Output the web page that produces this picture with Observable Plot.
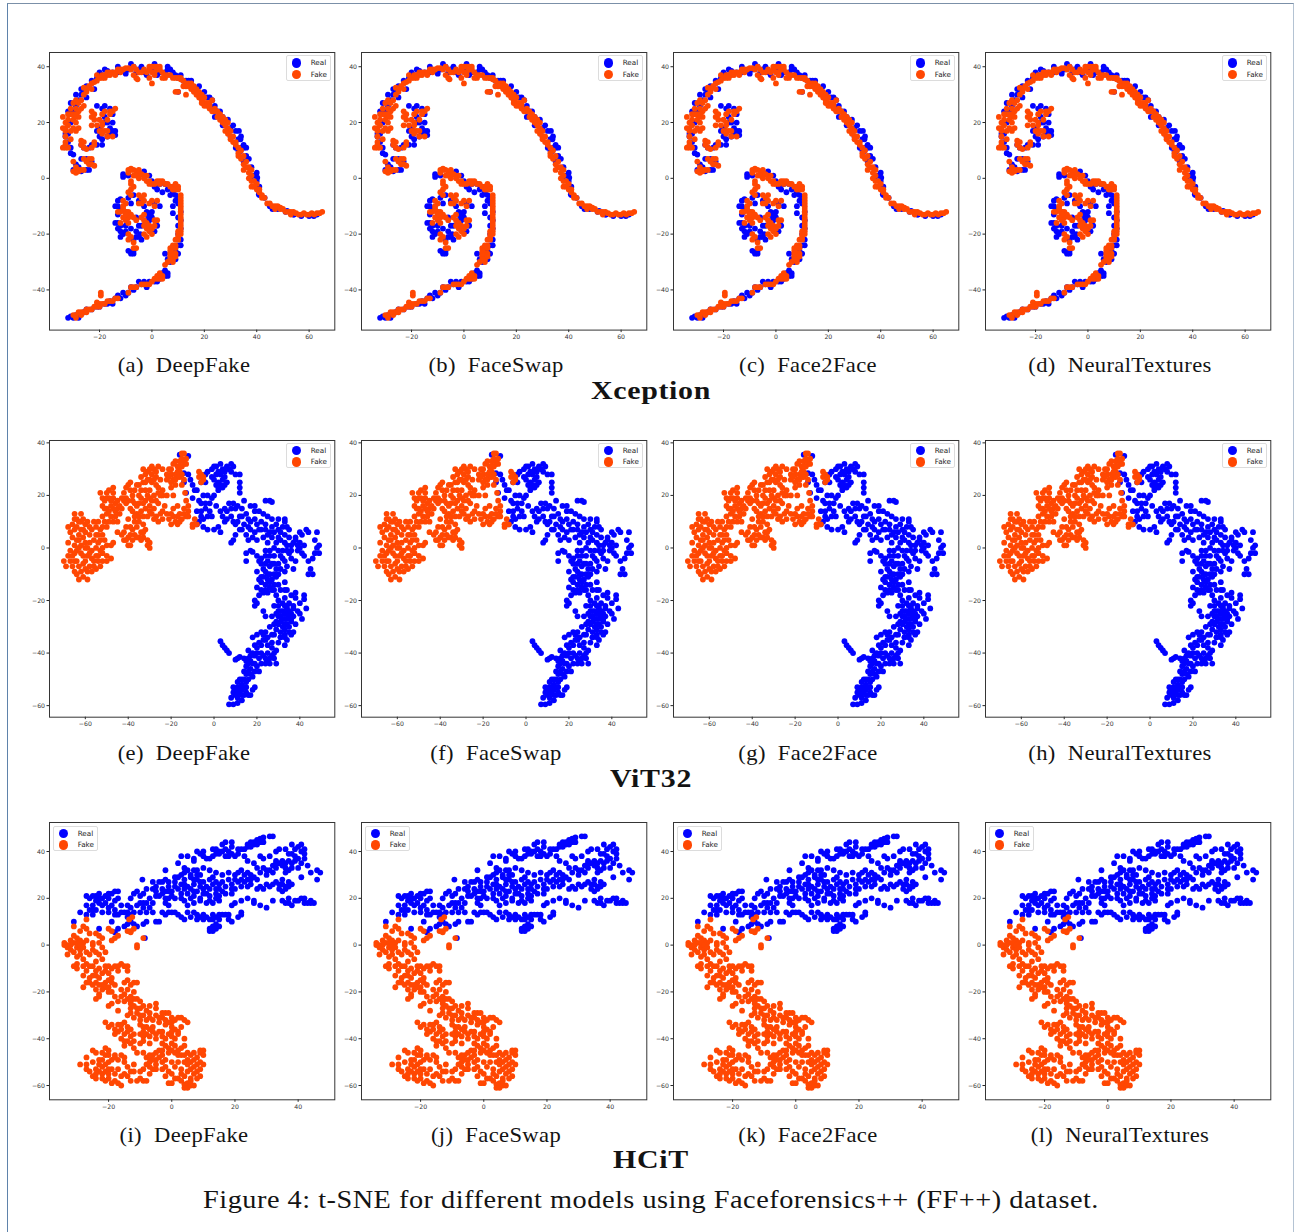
<!DOCTYPE html>
<html><head><meta charset="utf-8">
<script src="https://cdn.jsdelivr.net/npm/d3@7"></script>
<script src="https://cdn.jsdelivr.net/npm/@observablehq/plot@0.6"></script>
<style>
html,body{margin:0;padding:0;background:#fff;overflow:hidden}
#page{position:relative;width:1294px;height:1232px;overflow:hidden}
#edge{position:absolute;left:7px;top:3px;width:1285px;height:1240px;border-left:1.5px solid #5f83ab;border-top:1.5px solid #7b90a8;border-right:1.5px solid #b4c3d3}
.p{position:absolute;opacity:.99}
.t{position:absolute;white-space:nowrap;font-family:"Liberation Serif",serif;color:#111;opacity:.99}
.lg{position:absolute;background:#fff;border:1px solid #dcdcdc;border-radius:2px;box-sizing:border-box;opacity:.99}
.d{position:absolute;width:9.4px;height:9.4px;border-radius:50%}
.l{position:absolute;font:7.2px "DejaVu Sans",sans-serif;color:#222;line-height:9px}
</style></head><body><div id="page"><div id="edge"></div></div>
<script>
const realColor = "#0000ff", fakeColor = "#ff4500";
const seriesNames = ["Real", "Fake"];
const methods = ["DeepFake", "FaceSwap", "Face2Face", "NeuralTextures"];
const letters = "abcdefghijkl";
const modelNames = ["Xception", "ViT32", "HCiT"];
const figureCaption = "Figure 4: t-SNE for different models using Faceforensics++ (FF++) dataset.";

const xceptionReal = [[-32,16],[-33,15],[-32,13],[-31,11],[-31,9],[-30,8.5],[-31,20],[-30,24],[-29,26],[-28,28],[-27,30],[-26,31],[-25,33],[-22,32],[-21,36],[-19,37],[-17,38.5],[-15,38],[-13,38],[-11,38.5],[-9,39],[-7,40],[-5,39],[-3,38],[0,39],[3,38],[5,38],[7,39],[8,38],[10,36],[12,35],[14,35],[15,33],[17,32],[19,30],[21,29],[23,28],[22,26],[25,24],[27,22],[28,20],[30,18],[32,17],[33,14],[35,12],[34,11],[33,10],[36,8],[35,6],[38,4],[39,1],[40,-1],[41,-3],[41,-6],[43,-7],[45,-10],[46,-11],[48,-11],[51,-12],[54,-13],[57,-13.5],[60,-13.5],[63,-13],[-21,26],[-18,26],[-16,25],[-15,23],[-18,22],[-17,20],[-16,18],[-15,17],[-14,15.5],[-20,18],[-21,17],[-20,15],[-17,15],[-21,12],[-23,12],[-24,11],[-26,11],[-27,12],[-27,7],[-25,7],[-23,6],[-24,3],[-29,5],[-28,4],[-30,3],[-27,2.5],[-25,3],[-11,1.5],[-11,0.5],[-3,2.5],[-1,1],[0,-1],[1,-3],[3,-2],[2,-4],[5,-2],[6,-4],[7,-6],[9,-6],[10,-7],[10,-9],[11,-12],[8,-12.5],[11,-15],[11,-18],[10,-20],[11,-22],[10,-24],[9,-26],[7,-27],[7,-30],[9,-29],[5,-33],[6,-34],[4,-34],[3,-36],[1,-37],[-1,-37],[-3,-37],[-4,-38],[-5,-37],[-6,-39],[-8,-39],[-9,-41],[-11,-41],[-13,-42],[-14,-43],[-16,-44],[-13,-42.5],[-18,-45],[-20,-46],[-23,-47],[-25,-47],[-26,-48],[-29,-49],[-31,-49.5],[-32,-50],[-12,-7.5],[-13,-8],[-13,-10],[-14,-10],[-12,-11],[-10,-12],[-13,-16],[-14,-16],[-12,-17],[-12,-19],[-11,-20],[-10,-19],[-8,-18],[-6,-14],[-5,-17],[-4,-17],[-5,-21],[-4,-22],[-4.5,-20],[-7,-22],[-8,-27],[-7,-26],[-8,-9],[-5,-8],[-7,-6],[-3,-10],[-2,-12],[-1,-12.5],[-0.5,-13],[0,-12],[-1,-14],[-2,-15],[1,-9],[3,-10],[2,-17],[1,-19],[-1,-18],[-6,-19]];
const xceptionRealMore = [[33.2,17],[33.8,14],[35,11],[33.8,9.8],[37.7,0.2],[40.2,0.2],[40.8,-5.7],[46,-10.5],[51.6,-11.7],[54.2,-13],[61.8,-13.5],[24,26],[26,24],[29,21],[31,19],[34,15],[36,11],[37,7],[40,2],[24,22],[27,19],[30,15],[32,11],[-10,37.5],[-6,38],[-2,37],[2,37],[6,39],[9,37],[11,37],[13,35],[15,35],[18,33],[20,31],[22,29],[10,31],[-33,16],[-32,24],[-31,27],[-29,30],[-27,32],[-25,29],[-23,35],[-20,38],[-18,39],[-13,40],[-8,41],[-4,40],[1,41],[6,40],[-19,25],[-18,20],[-14,17],[-16,16],[-19,14],[-15,20],[-19,12],[-9,1],[-3,1],[2,-2],[4,-5],[8,-5],[9,-8],[8,-10],[10,-14],[10,-17],[11,-24],[5,-27],[6,-29],[10,-27],[6,-35],[5,-35],[2,-37],[-2,-39],[-7,-40],[-10,-42],[-12,-43],[-15,-45],[-17,-45],[-21,-46],[-28,-50],[-30,-50],[-13,-13],[-13,-18],[-12,-21],[-10,-17],[-1,-13],[0,-14],[-1,-15],[-2,-13],[-9,-26],[-7,-27],[-6,-21],[-9,-7]];
const xceptionFake = [[-33,11],[-34,11],[-32,11],[-33,13],[-33,15],[-33,17],[-33,18],[-34,18],[-32,19],[-31,17],[-31,14],[-32,21],[-34,22],[-30,21],[-29,22],[-31,23],[-29,20],[-28,18],[-29,17],[-30,18],[-31,25],[-29,25],[-28,24],[-27,25],[-28,22],[-26,26],[-30,27],[-29,28],[-26,30],[-25,32],[-26,32.5],[-24,33],[-23,32],[-23,34],[-22,34.5],[-21,37],[-20,36],[-19,36],[-19,37],[-18,37],[-17,38],[-16,38],[-17,37],[-15,38],[-14,38],[-14,37],[-13,39],[-11,39],[-10,39.5],[-9,39.5],[-8,39],[-7,40],[-7,37],[-6,36],[-5.5,35.5],[-4,38],[-3,39],[-1,39],[0,40],[1,40],[2,40],[2,39],[0,38],[1,37],[-1,36],[0,34],[3,39],[4,38],[5,37],[5,36],[7,37],[9,36],[10,36],[11,35.5],[12,35],[13,34],[14,34],[15,34],[13,33],[15,32],[16,31],[17,32],[18,31],[9,31],[10,31],[13,30],[19,30],[20,29],[19,28],[20,27],[21,27],[22,27],[21,26],[20,26],[23,28],[24,25],[25,24],[26,23],[27,22],[28,21],[29,20],[29,18],[30,17],[30,15],[31,13],[32,12],[33,11],[34,10],[35,8],[36,6],[37,4],[36,4],[38,3],[38,1],[39,-1],[40,-2],[41,-5],[43,-7],[44,-9],[46,-10],[47,-11],[49,-11],[48,-10],[51,-12],[54,-12],[55,-12.5],[57,-13],[58,-12.5],[60,-13],[61,-12.5],[63,-12.5],[65,-12],[-23,24],[-22,23],[-19,23],[-18,24],[-23,22],[-22,21],[-20,21],[-19,20],[-21,19],[-23,19],[-19,19],[-16,24],[-15,24],[-14,25],[-16,23],[-17,21],[-20,17],[-19,17],[-18,17],[-17,17],[-17,15],[-15,15],[-19,16],[-27,13.5],[-27,12],[-26,13],[-26,11],[-25,10.5],[-22,13],[-23,11],[-22,12],[-26,7],[-25,6],[-24,7],[-23,7],[-24,5],[-23,5],[-22,4.5],[-30,6],[-29,4],[-28,3],[-30,2.5],[-29,2],[-28,2.5],[-27,3],[-26,3],[-9,3],[-8,3],[-7,3],[-6,2.5],[-9,2],[-7,1],[-5,2],[-3,1],[-2,1],[-3,0],[-2,-1],[-1,-1],[-1,-2],[2,-1],[3,-2],[5,-2],[6,-2],[7,-3],[8,-3],[9,-3],[10,-4],[11,-6],[11,-8],[11,-10],[11,-12],[11,-14],[11,-16],[11,-18],[11,-19],[10,-20],[10,-22],[9,-24],[8,-24],[7,-25],[8,-27],[7,-28],[9,-27],[8,-29],[5,-31],[4,-35],[3,-35],[3,-36],[1,-36],[0,-37],[-2,-38],[-3,-38],[-7,-39],[-6,-39],[-8,-39],[-9,-41],[-17,-44],[-14,-43],[-13,-43],[-18,-45],[-19,-45],[-20,-45],[-21,-44.5],[-19.5,-41],[-19.5,-42],[-22,-46],[-23,-47],[-25,-47],[-25,-48],[-27,-48],[-29,-49],[-30,-49],[-29,-50],[-26,-48],[-9,-5],[-8,-4],[-7,-3],[-8,-1],[-8,-2],[-11,-8],[-10,-9],[-11,-10],[-12,-12],[-10,-12],[-9,-12],[-8,-13],[-9,-14],[-10,-15],[-12,-16],[-5,-6],[-4,-7],[-3,-6],[-3,-8],[-4,-9],[-5,-9],[0,-8],[2,-8],[1,-10],[-1,-9],[-3,-15],[-4,-14],[-2.5,-16],[-1,-17],[-2,-18],[-1,-19],[0,-18],[1,-17],[1,-15],[2,-15],[0,-20],[-3,-20],[-7,-14],[-6,-15],[-9,-20],[-8,-21],[-9,-22],[-7,-23],[-6,-25],[-7,-25]];
const xceptionFakeMore = [[22,25],[23,24],[24,24],[25,22],[26,21],[27,20],[28,19],[28,17],[29,16],[30,14],[31,15],[32,13],[33,9],[33,8],[34,7],[35,5],[35,3],[37,2],[37,0],[38,-1],[38,-3],[39,-3],[40,-4],[41,-4],[42,-6],[42,-7],[45,-9],[47,-10],[49,-10.5],[50,-11],[52,-12],[53,-12],[53,-13],[56,-13],[59,-13],[62,-13],[64,-12.5],[-12,38],[-12,39],[-16,37],[-18,36],[-21,35],[-6,39],[-5,38],[-2,38],[-1,40],[1,38],[3,40],[4,36],[6,37],[8,36],[11,36],[12,33],[14,33],[16,33],[17,30],[18,29],[19,27],[22,26],[-27,28],[-28,27],[-25,31],[-33,20],[-32,23],[-30,23],[-29,23],[-33,12],[11,-7],[11,-9],[11,-11],[11,-13],[11,-15],[11,-17],[10,-19],[11,-20],[10,-21],[9,-22],[9,-25],[8,-25],[7,-26],[7,-27],[9,-28],[8,-30],[6,-30],[7,-29],[4,-36],[2,-36],[2,-35],[3,-34],[-1,-38],[-4,-38],[-20,-46],[-21,-46],[-15,-44],[-16,-44],[-24,-47],[-27,-49],[-28,-48],[8,-4],[9,-4],[10,-3],[9,-2],[4,-1],[3,-1],[0,-2],[1,-2],[-8,3.5],[-5,3],[-4,1.5],[-6,1],[-5,0],[-11,-11],[-10,-13],[-9,-16],[-11,-14],[-13,-12],[-8,-6],[-2,-16],[-3,-17],[-3,-13],[-2,-21]];

const vitReal = [[-16,35.5],[-12,35],[-14,28.5],[-12,28],[-14,25],[-11,26],[-10,24],[-9,22],[-13,21],[-10,19],[-7,18],[-8,22],[-6,25],[-4,25],[-4,28],[-3,29],[-1,30],[0,31],[1,31],[3,32],[4,30],[3,28],[1,28],[0,26],[2,25],[3,24],[4,26],[5,27],[6,25],[2,23],[2,22],[7,30],[8,32],[9,31],[8,29],[10,28],[12,28],[12,25],[12,23],[12,21],[-5,20],[-6,17],[-4,17],[-3,20],[-1,19],[0,20],[-4,15],[-2,14],[-1,12],[-5,11],[-7,10],[-8,9],[-5,8],[-3,7],[0,7],[2,8],[3,6],[5,10],[4,12],[6,14],[8,15],[7,17],[9,17],[10,15],[11,16],[14,18],[13,15],[15,13],[17,16],[19,16],[19,14],[21,14],[16,11],[14,9],[12,7],[10,5],[9,3],[8,2],[15,5],[17,7],[19,6],[20,9],[22,10],[24,9],[24,7],[23,4],[25,2],[27,4],[26,6],[28,6],[29,9],[27,11],[25,12],[30,11],[33,11],[33,10],[34,8],[30,7],[33,5],[35,4],[31,3],[29,2],[28,0],[24,18],[26,18],[27,17.5],[23,13],[17,-1],[18,-1.5],[15,-2],[15,-5],[20,-3],[22,-4],[24,-3],[26,-1],[28,-3],[31,-3],[34,-1],[36,1],[38,3],[40,2],[42,1],[39,-1],[36,-4],[33,-5],[30,-6],[26,-7],[24,-6],[23,-8],[20,-9],[22,-11],[25,-10],[28,-10],[30,-10],[33,-9],[37,-8],[38,-5],[42,-3],[44,-5],[46,-4],[47,-2],[49,-2],[48,0],[49,1],[47,3],[48,6],[44,6],[41,5],[40,6],[43,7],[38,4],[45,-8],[46,-10],[44,-10],[22,-13],[24,-14],[26,-13],[28,-14],[30,-14],[33,-13],[20,-15],[23,-17],[25,-17],[27,-16],[29,-18],[33,-16],[34,-16],[19,-20],[20,-21],[19,-22],[23,-24],[24,-26],[33,-19],[36,-18],[42,-18],[42,-19.5],[38,-17],[40,-21],[37,-22],[35,-21],[32,-21],[30,-22],[28,-22],[27,-26],[29,-25],[31,-24],[33,-25],[35,-24],[37,-23],[33,-27],[36,-28],[31,-28],[30,-26],[28,-29],[35,-30],[33,-31],[31,-32],[29,-31],[26,-30],[24,-32],[22,-32],[20,-33],[18,-34],[36,-33],[33,-34],[33,-37],[30,-36],[27,-36],[25,-37],[23,-35],[22,-37],[20,-38],[19,-41],[21,-42],[23,-41],[25,-40],[27,-41],[29,-39],[29,-44],[26,-44],[24,-44],[22,-44],[17,-43],[16,-39],[14,-42],[15,-45],[17,-46],[19,-47],[21,-47],[15,-48],[14,-50],[16,-50],[13,-52],[11,-53],[12,-55],[9,-53],[9,-55],[8,-57],[10,-56],[13,-56],[15,-55],[17,-56],[18,-54],[19,-53],[15,-53],[13,-58],[11,-59],[9,-59.5],[7,-59.5],[3,-35.5],[4,-37],[5,-38],[6,-39],[7,-40],[10,-42.5],[11,-42],[12,-41.5],[41,-27],[43,-23],[38,-29],[37,-32]];
const vitRealMore = [[2,29],[5,29],[6,31],[-1,27],[1,24],[4,23],[5,24],[-8,14],[-6,14],[-3,12],[-2,17],[1,16],[3,14],[5,15],[-6,12],[6,11],[8,12],[9,10],[10,9],[12,12],[11,10],[13,12],[13,7],[16,8],[17,10],[19,11],[18,4],[20,3],[16,3],[21,7],[22,7],[25,5],[27,8],[30,4],[31,6],[32,8],[35,7],[33,2],[34,1],[37,2],[39,1],[40,0],[41,-2],[35,-2],[36,-1],[32,-1],[30,-1],[26,-3],[24,-1],[22,-6],[21,-5],[25,-5],[27,-6],[28,-6],[29,-8],[31,-8],[32,-4],[34,-7],[24,-9],[26,-10],[27,-12],[23,-11],[21,-12],[25,-12],[29,-11],[24,-16],[26,-15],[22,-16],[21,-18],[28,-16],[31,-16],[30,-20],[33,-22],[34,-23],[32,-24],[34,-25],[36,-25],[30,-24],[31,-26],[32,-27],[34,-27],[35,-26],[36,-27],[37,-26],[29,-28],[30,-29],[33,-29],[34,-29],[32,-30],[35,-32],[33,-33],[31,-34],[34,-35],[28,-33],[27,-33],[25,-34],[23,-33],[24,-35],[21,-36],[19,-37],[20,-40],[18,-40],[17,-41],[16,-42],[18,-44],[19,-44],[20,-45],[16,-44],[15,-43],[17,-48],[18,-49],[16,-47],[14,-47],[15,-51],[13,-50],[12,-50],[11,-51],[14,-53],[12,-53],[11,-55],[13,-54],[10,-54],[14,-56],[11,-57],[16,-56],[27,-38],[28,-40],[26,-42],[24,-42],[22,-40],[25,-43],[28,-42],[31,-34],[34,-22],[39,-24],[40,-25],[38,-19]];
const vitFake = [[-70,-5],[-69,-7],[-67,-5],[-66,-3],[-66,-7],[-65,-9],[-64,-5],[-64,-10],[-63,-12],[-62,-9],[-61,-11],[-59,-12],[-59,-9],[-58,-7],[-57,-9],[-56,-7],[-55,-8],[-53,-7],[-52,-5],[-50,-5],[-48,-4],[-52,-2],[-54,-3],[-57,-4],[-59,-3],[-60,-5],[-62,-2],[-64,-1],[-65,-2],[-62,1],[-63,3],[-60,2],[-59,0],[-57,-1],[-58,2],[-55,0],[-54,2],[-52,0],[-50,1],[-48,1],[-47,2],[-67,-1],[-68,2],[-66,4],[-67,6],[-68,8],[-66,9],[-65,7],[-65,11],[-65,13],[-64,8],[-63,5],[-62,10],[-60,9],[-60,6],[-58,5],[-59,10],[-57,7],[-55,5],[-55,8],[-54,10],[-53,7],[-52,5],[-52,12],[-51,10],[-53,21],[-50,21],[-49,22],[-47,21],[-47,19],[-49,19],[-51,18],[-52,16],[-50,15],[-48,16],[-46,17],[-45,15],[-44,13],[-46,12],[-48,12],[-50,13],[-47,10],[-45,10],[-42,21],[-41,23],[-40,24],[-39,22],[-38,20],[-37,22],[-41,19],[-40,18],[-38,18],[-35,20],[-36,24],[-34,27],[-33,25],[-31,26],[-31,29],[-33,30],[-29,28],[-28,30],[-26,31],[-27,27],[-29,25],[-27,24],[-30,22],[-32,22],[-34,19],[-32,18],[-30,19],[-28,20],[-26,21],[-24,20],[-22,20],[-36,16],[-38,14],[-36,13],[-34,14],[-32,15],[-30,16],[-28,15],[-29,13],[-27,12],[-25,13],[-24,11],[-26,17],[-40,11],[-41,8],[-39,8],[-37,10],[-35,10],[-33,9],[-32,7],[-34,6],[-37,5],[-35,4],[-33,4],[-31,3],[-31,1],[-30,2],[-30,0],[-43,5],[-42,3],[-41,3],[-40,4],[-40,1],[-39,1],[-45,6],[-22,28],[-22,26],[-21,30],[-20,28],[-19,26],[-18,28],[-17,31],[-16,29],[-19,32],[-18,33],[-16,33],[-15,34],[-14,36],[-13,34],[-14,32],[-15,28],[-14,26],[-15,24],[-18,24],[-20,23],[-19,20],[-13.5,21],[-19,15],[-17,16],[-13,18],[-12,16],[-12,14],[-13,12],[-15,11],[-17,12],[-18,10],[-20,9],[-21,11],[-22,13],[-17,9],[-10,9],[-10,8],[-8,9],[-9,11],[-7,27],[-6,28],[-5,26],[-6,25],[-7,29],[-5,27]];
const vitFakeMore = [[-68,-3],[-65,-5],[-63,-7],[-61,-6],[-60,-8],[-61,-3],[-60,0],[-58,-2],[-56,-5],[-55,-3],[-54,-5],[-50,-3],[-53,-1],[-63,0],[-65,1],[-64,3],[-61,4],[-62,7],[-64,11],[-63,10],[-62,13],[-61,7],[-61,11],[-58,8],[-56,10],[-56,3],[-54,5],[-53,3],[-51,3],[-52,8],[-50,8],[-49,10],[-49,14],[-51,15],[-48,18],[-46,14],[-47,15],[-44,16],[-43,15],[-52,19],[-50,19],[-47,23],[-45,18],[-42,18],[-43,19],[-39,25],[-41,17],[-39,15],[-37,17],[-35,17],[-33,17],[-34,22],[-35,24],[-32,25],[-32,28],[-30,30],[-29,31],[-30,26],[-28,26],[-27,29],[-31,20],[-29,18],[-27,18],[-25,20],[-24,22],[-26,23],[-25,26],[-24,30],[-37,12],[-35,12],[-33,12],[-31,12],[-30,14],[-28,11],[-26,10],[-24,14],[-23,16],[-38,7],[-36,8],[-33,6],[-36,4],[-34,3],[-39,5],[-42,6],[-38,3],[-21,27],[-20,25],[-20,30],[-17,27],[-18,26],[-16,27],[-17,29],[-15,31],[-15,36],[-14,33],[-13,32],[-16,31],[-20,13],[-19,12],[-16,13],[-14,15],[-14,13],[-16,10],[-12,12],[-9,9]];

const hcitReal = [[-31,10],[-29,14],[-27,21],[-26,20],[-25,21],[-27,17],[-25,17],[-24,15],[-27,13],[-25,13],[-23,18],[-23,22],[-23,20],[-21,21],[-21,18],[-22,14],[-20,16],[-20,20],[-20,14],[-18,15],[-18,19],[-19,22],[-18,23],[-17,23],[-16,17],[-15,14],[-14,17],[-13,20],[-11,17],[-12,22],[-11,23],[-9,22],[-8,24],[-6,24],[-7,20],[-8,18],[-9,16],[-10,14],[-8,14],[-7,16],[-6,14],[-14,12],[-13,10],[-12,9],[-11,8],[-9,9],[-8,10],[-23,7],[-19,10],[-17,7],[-15,8],[-14,9],[-4,10],[-5,10],[-8.5,3],[-18,5.5],[-9.3,28],[-6,27],[-4,27],[-3,27],[-2,28],[-3,22],[-5,25],[-3,24],[-2,23],[-4,21],[-2,20],[-1,20],[0,21],[1,20],[-1,17],[-2,18],[0,14],[2,13],[-2,13],[0,23],[1,25],[1,27],[2,29],[3,30],[4,28],[4,31],[5,32],[4,33],[6,30],[2,35],[-2,32],[3,38],[5,38],[7,37],[9,39],[8,40],[10,40],[11,37],[13,41],[14,41],[12,37],[15,40],[16,43],[15,39],[17,38],[18,40],[19,42],[19,44],[20,38],[21,41],[22,41],[23,38],[24,42],[25,42],[26,43],[26,44],[27,45],[28,45.5],[29,44],[31,46.5],[32,46.5],[24,36],[26,35],[28,38],[29,37],[31,38],[33,40],[34,41],[36,41],[37,39],[38,43],[40,42],[41,40],[42,39],[42,37],[41,35],[39,36],[37,36],[35,36],[36,35],[35,34],[33,33],[31,32],[29,33],[27,33],[30,30],[32,31],[36,31],[38,33],[40,33],[43,34],[41,29],[44,31],[46,32],[47,31],[46,28],[35,28],[37,27],[38,26],[36,25],[34,26],[36,24],[34,24],[32,26],[30,26],[29,24],[27,24],[25,26],[24,25],[22,25],[21,27],[19,26],[18,28],[16,27],[20,30],[21,31],[23,30],[24,31],[25,30],[26,29],[27,28],[18,31],[16,30],[13,29],[14,31],[12,32],[10,33],[8,32],[7,32],[6,29],[8,28],[9,27],[7,26],[5,25],[10,27],[12,28],[13,26],[11,25],[12,24],[14,24],[16,23],[10,22],[9,20],[7,21],[6,20],[4,19],[5,17],[7,18],[9,19],[11,18],[12,21],[14,20],[15,19],[17,22],[19,22],[19,17],[20,18],[22,19],[24,20],[26,19],[26,18],[28,17],[30,16],[32,19],[35,19],[37,18],[38,17],[39,19],[41,20],[42,18],[44,19],[45,18],[5,14],[6,12],[8,13],[9,12],[10,11],[11,12],[13,13],[14,12],[15,11],[16,13],[17,13],[18,11],[19,10],[22,14],[21,12],[22,13],[4,11],[3,12],[12,7],[13,8],[12,6],[14,9],[15,8]];
const hcitRealMore = [[-26,15],[-24,19],[-22,17],[-19,17],[-17,20],[-16,14],[-17,13],[-12,14],[-13,16],[-10,18],[-10,21],[-9,18],[-6,18],[-5,21],[-5,23],[-1,23],[-1,25],[-1,27],[1,29],[3,26],[3,22],[3,20],[5,22],[6,24],[7,23],[8,23],[10,24],[9,25],[11,22],[12,19],[13,18],[14,22],[15,21],[15,24],[15,26],[14,27],[17,25],[19,24],[20,24],[20,28],[22,28],[23,27],[24,28],[25,28],[22,32],[28,31],[30,32],[32,34],[33,35],[34,35],[36,33],[37,32],[38,35],[39,38],[40,37],[38,39],[39,41],[41,43],[42,41],[35,26],[33,27],[37,25],[35,23],[31,25],[28,25],[7,36],[10,38],[13,38],[14,39],[16,40],[17,41],[17,44],[18,38],[19,39],[21,39],[23,41],[24,43],[27,43],[28,44],[29,46],[25,44],[33,36],[8,30],[9,30],[7,28],[4,26],[4,24],[2,24],[-3,14],[-1,14],[1,14],[7,14],[8,11],[10,13],[12,11],[18,13],[15,13],[13,11],[13,6],[14,7],[36,18],[37,20],[40,19],[43,18],[42,20],[44,18],[-22,20],[-24,21],[-20,22],[-25,15],[-18,13],[-14,14],[-13,13]];
const hcitFake = [[-34,1],[-33,0],[-34,0],[-32,2],[-33,-1],[-32,-2],[-31,-3],[-30,-1],[-31,1],[-30,3],[-29,2],[-28,1],[-31,4],[-29,6],[-31,8],[-28,8],[-27,7],[-26,5],[-27,2],[-29,-2],[-30,-5],[-33,-4],[-31,-9],[-30,-10],[-28,-9],[-28,-6],[-26,-4],[-25,-2],[-25,0],[-25,1],[-24,5],[-23,4],[-22,3],[-23,-4],[-21,-3],[-22,-6],[-24,-7],[-25,-9],[-27,-11],[-28,-13],[-26,-14],[-25,-13],[-23,-10],[-21,-9],[-22,-12],[-20,-12],[-19,-10],[-18,-9],[-17,-9],[-16,-8],[-15,-9],[-14,-9],[-19,-14],[-18,-17],[-21,-16],[-22,-17],[-24,-16],[-26,-16],[-28,-18],[-20,-18],[-20,-20],[-19,-20],[-24,-23],[-23,-22],[-23,-21],[-19,2],[-18,3],[-17,4],[-19,6],[-20,7],[-14,6],[-13,6],[-13,5.5],[-12,7],[-13.5,11],[-12.5,12],[-27,11],[-11,-1],[-11,0],[-9,3],[-16,-19],[-14,-15],[-12,-16],[-11,-16],[-14,-19],[-13,-22],[-15,-24],[-13,-25],[-18,-22],[-17,-24],[-20,-26],[-19,-25],[-17,-28],[-12,-20],[-11,-23],[-10,-24],[-10,-27],[-13,-27],[-9,-26],[-13,-29],[-12,-31],[-7,-26],[-5,-25],[-5,-27],[-7,-29],[-9,-30],[-8,-32],[-6,-32],[-4,-33],[-3,-31],[-2,-29],[-1,-29],[0,-31],[-2,-34],[0,-33],[1,-36],[2,-31],[3,-31],[3,-35],[4,-32],[5,-33],[-21,-33],[-19,-34],[-17,-34],[-15,-33],[-14,-35],[-17,-37],[-15,-38],[-13,-36],[-12,-38],[-14,-41],[-16,-40],[-18,-38],[-12,-41],[-15,-43],[-12,-44],[-10,-34],[-9,-37],[-9,-39],[-10,-42],[-9,-41],[-8,-38],[-6,-37],[-5,-40],[-7,-42],[-4,-37],[-3,-37],[-1,-38],[0,-37],[1,-40],[0,-42],[-3,-42],[-2,-43],[0,-45],[3,-44],[4,-40],[4,-43],[5,-46],[-9,-46],[-11,-46],[-8,-48],[-6,-47],[-4,-45],[-3,-47],[-2,-49],[-5,-49],[-7,-50],[-7,-52],[-9,-53],[-7,-55],[-5,-53],[-3,-53],[-2,-56],[0,-55],[1,-52],[2,-50],[3,-53],[-1,-59],[0,-59],[2,-57],[4,-56],[4,-50],[5,-49],[6,-50],[7,-46],[7,-52],[9,-46],[10,-45],[10,-47],[9,-50],[10,-51],[8,-54],[7,-55],[9,-56],[6,-57],[5,-59],[5,-61],[6,-60],[7,-60],[4,-59.5],[-27,-48],[-25,-45],[-24,-46],[-21,-44],[-21,-47],[-22,-49],[-20,-47],[-18,-47],[-16,-47],[-15,-50],[-14,-52],[-12,-51],[-12,-54],[-10,-54],[-29,-51],[-27,-51],[-25,-50],[-24,-53],[-26,-54],[-25,-56],[-24,-57],[-22,-55],[-22,-52],[-20,-50],[-19,-53],[-17,-53],[-18,-55],[-20,-57],[-21,-58],[-19,-59],[-17,-59],[-16,-60],[-15,-55],[-14,-56],[-11,-58],[-9,-58],[-8,-58]];
const hcitFakeMore = [[-32,0],[-30,1],[-29,0],[-28,-1],[-27,-3],[-29,-4],[-30,-8],[-27,-8],[-26,-9],[-24,-11],[-24,-13],[-23,-14],[-21,-11],[-23,-17],[-21,-18],[-22,-19],[-20,-15],[-19,-16],[-25,-17],[-27,-16],[-24,-19],[-22,-1],[-23,1],[-24,-3],[-20,-9],[-17,-11],[-14,-11],[-15,-16],[-13,-17],[-15,-21],[-14,-23],[-12,-23],[-16,-22],[-13,-24],[-12,-26],[-11,-27],[-11,-29],[-14,-30],[-10,-30],[-8,-28],[-7,-31],[-10,-32],[-5,-30],[-3,-29],[-4,-31],[-1,-33],[1,-32],[-2,-32],[0,-35],[2,-37],[-6,-35],[-7,-36],[-8,-35],[-9,-35],[-10,-38],[-7,-39],[-5,-38],[-3,-39],[-2,-40],[0,-39],[2,-38],[-20,-35],[-18,-36],[-16,-36],[-14,-37],[-16,-34],[-13,-39],[-15,-41],[-13,-42],[-1,-44],[1,-43],[2,-45],[3,-47],[1,-46],[-1,-46],[-3,-45],[-5,-46],[-7,-48],[-6,-49],[-4,-48],[-3,-50],[-5,-51],[-6,-53],[-8,-51],[-7,-47],[-2,-52],[-1,-54],[0,-50],[2,-47],[4,-47],[5,-51],[6,-53],[5,-54],[3,-55],[1,-57],[3,-58],[6,-47],[8,-48],[8,-51],[9,-53],[7,-49],[9,-45],[4,-61],[6,-58],[8,-57],[-23,-49],[-21,-51],[-19,-49],[-17,-49],[-23,-51],[-23,-54],[-21,-54],[-20,-53],[-20,-55],[-22,-57],[-24,-55],[-18,-58],[-16,-56],[-13,-54],[-13,-58],[-10,-57],[-22,-46],[-20,-45],[-18,-48],[-15,-48],[-27,-53]];

const xTicksRows = [[-20,0,20,40,60],[-60,-40,-20,0,20,40],[-20,0,20,40]];
const yTicksRows = [[-40,-20,0,20,40],[-60,-40,-20,0,20,40],[-60,-40,-20,0,20,40]];
const xDomains = [[-39.1,69.8],[-76.7,56.3],[-38.7,51.6]];
const yDomains = [[-54.4,45.1],[-64.4,40.9],[-66.1,52.4]];
const realRows = [xceptionReal.concat(xceptionRealMore), vitReal.concat(vitRealMore), hcitReal.concat(hcitRealMore)];
const fakeRows = [xceptionFake.concat(xceptionFakeMore), vitFake.concat(vitFakeMore), hcitFake.concat(hcitFakeMore)];

// layout (page pixels)
const colStep = 312, frameLeft = 49, frameW = 285.3, mL = 30, mR = 8, mT = 4, mB = 22;
const frameTop = [51.7, 440, 821.7], frameH = [277.6, 276.7, 277.3];
const capY = [365, 753, 1135], modelY = [391, 779, 1160];
const legendX = [285.7, 285.7, 52.7], legendY = [55, 442.7, 825.7];

const page = document.getElementById("page");
function text(s, x, y, css, sx) {
  const e = document.createElement("div");
  e.className = "t"; e.textContent = s;
  e.style.cssText = `left:${x}px;top:${y}px;transform:translate(-50%,-50%) scaleX(${sx});${css}`;
  page.appendChild(e);
}
function legend(x, y) {
  const b = document.createElement("div");
  b.className = "lg";
  b.style.cssText = `left:${x}px;top:${y}px;width:45px;height:25.5px`;
  seriesNames.forEach((n, i) => {
    const d = document.createElement("div");
    d.className = "d";
    d.style.cssText = `left:5.3px;top:${2.2 + i * 11.3}px;background:${i ? fakeColor : realColor}`;
    const l = document.createElement("div");
    l.className = "l"; l.textContent = n;
    l.style.cssText = `left:24px;top:${2.2 + i * 11.3}px`;
    b.append(d, l);
  });
  page.appendChild(b);
}
for (let r = 0; r < 3; r++) {
  for (let c = 0; c < 4; c++) {
    const chart = Plot.plot({
      width: mL + frameW + mR, height: mT + frameH[r] + mB,
      marginLeft: mL, marginRight: mR, marginTop: mT, marginBottom: mB,
      style: {background: "transparent", fontFamily: "DejaVu Sans", fontSize: "6.2px", color: "#333"},
      x: {domain: xDomains[r]}, y: {domain: yDomains[r]},
      marks: [
        Plot.axisX({ticks: xTicksRows[r], tickSize: 2.5, tickPadding: 2, label: null, fontSize: 6.2, stroke: "#222"}),
        Plot.axisY({ticks: yTicksRows[r], tickSize: 2.5, tickPadding: 2, label: null, fontSize: 6.2, stroke: "#222"}),
        Plot.dot(realRows[r], {x: d => d[0], y: d => d[1], r: 2.9, fill: realColor}),
        Plot.dot(fakeRows[r], {x: d => d[0], y: d => d[1], r: 2.9, fill: fakeColor}),
        Plot.frame({stroke: "#333", strokeWidth: 1})
      ]
    });
    chart.classList.add("p");
    chart.style.left = (frameLeft - mL + c * colStep) + "px";
    chart.style.top = (frameTop[r] - mT) + "px";
    page.appendChild(chart);
    legend(legendX[r] + c * colStep, legendY[r]);
    text(`(${letters[r * 4 + c]})\u00a0 ${methods[c]}`, 183.5 + c * colStep, capY[r], "font-size:21.5px;letter-spacing:.35px", 1.05);
  }
  text(modelNames[r], 651, modelY[r], "font-size:26px;font-weight:bold;letter-spacing:.6px", 1.15);
}
text(figureCaption, 650.5, 1200, "font-size:25.5px;letter-spacing:.45px", 1.11);
</script></body></html>
